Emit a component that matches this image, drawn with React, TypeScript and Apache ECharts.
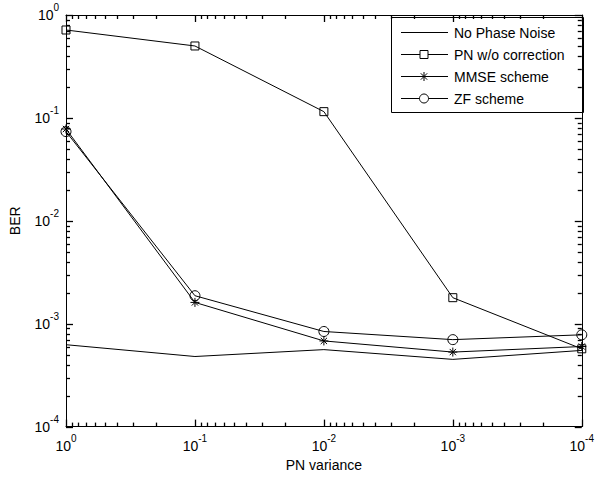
import React, { useEffect, useRef } from "react";
import * as echarts from "echarts";

// PN variance (x) and BER values
const PN_VARIANCE = [1, 0.1, 0.01, 0.001, 0.0001];
const NO_PHASE_NOISE = [6.25e-4, 4.8e-4, 5.6e-4, 4.5e-4, 5.5e-4];
const PN_WO_CORRECTION = [0.715, 0.5, 0.115, 1.79e-3, 5.7e-4];
const MMSE_SCHEME = [0.078, 1.61e-3, 6.8e-4, 5.3e-4, 6.0e-4];
const ZF_SCHEME = [0.0736, 1.87e-3, 8.4e-4, 7.0e-4, 7.8e-4];
const SERIES_NAMES = ["No Phase Noise", "PN w/o correction", "MMSE scheme", "ZF scheme"];
const AXIS_X_NAME = "PN variance";
const AXIS_Y_NAME = "BER";
const DECADES = [-4, -3, -2, -1, 0];

const FONT = "Liberation Sans, Arial, sans-serif";
const lg = (v: number) => Math.log10(v);

const MINOR: number[] = [];
for (let d = -4; d < 0; d++) {
  for (let k = 2; k <= 9; k++) MINOR.push(d + Math.log10(k));
}
// tick list: [log-position, kind] where kind 0 = major decade, 1 = minor
const TICKS = [...DECADES.map((v) => [v, 0]), ...MINOR.map((v) => [v, 1])];

const labelFmt = (v: number) => `{b|10}{s|${Math.round(v)}}`;
const rich = {
  b: { fontSize: 14, fontFamily: FONT, color: "#000" },
  s: { fontSize: 10, fontFamily: FONT, color: "#000", padding: [0, 0, 15, 0] },
};

const ASTERISK = "path://M5,0L5,10M0,5L10,5M1.5,1.5L8.5,8.5M8.5,1.5L1.5,8.5";

export default function App() {
  const ref = useRef<HTMLDivElement>(null);
  useEffect(() => {
    if (!ref.current) return;
    const chart = echarts.init(ref.current, null, { renderer: "svg" });
    const toData = (ys: number[]) => PN_VARIANCE.map((x, i) => [lg(x), lg(ys[i])]);
    const line = { color: "#000", width: 1 };
    const hollow = { color: "rgba(0,0,0,0)", borderColor: "#000", borderWidth: 1 };
    const base = { type: "value", min: -4, max: 0, splitLine: { show: false }, axisTick: { show: false } };
    const ls = { color: "#000", width: 1 };
    const stroke = { stroke: "#000", lineWidth: 1 };
    const tickStroke = { stroke: "#000", lineWidth: 1.3 };

    // MATLAB-style legend box
    const LX = 391, LY = 17, LW = 192, LH = 95;
    const rowY = (i: number) => LY + 15.5 + i * 22;
    const lineX1 = 401, lineX2 = 448, mx = 424, textX = 454;
    const legendChildren: any[] = [
      { type: "rect", shape: { x: LX + 0.5, y: LY + 0.5, width: LW, height: LH }, style: { fill: "#fff", ...stroke } },
    ];
    SERIES_NAMES.forEach((name, i) => {
      const y = rowY(i);
      legendChildren.push({ type: "line", shape: { x1: lineX1, y1: y, x2: lineX2, y2: y }, style: stroke });
      legendChildren.push({
        type: "text",
        x: textX,
        y,
        style: { text: name, fontSize: 14, fontFamily: FONT, fill: "#000", verticalAlign: "middle", align: "left" },
      });
    });
    legendChildren.push({
      type: "rect",
      shape: { x: mx - 4, y: rowY(1) - 4, width: 8, height: 8 },
      style: { fill: "#fff", ...stroke },
    });
    const ay = rowY(2);
    [
      [0, -4.5, 0, 4.5],
      [-4.5, 0, 4.5, 0],
      [-3.2, -3.2, 3.2, 3.2],
      [-3.2, 3.2, 3.2, -3.2],
    ].forEach(([a, b, c, d]) =>
      legendChildren.push({ type: "line", shape: { x1: mx + a, y1: ay + b, x2: mx + c, y2: ay + d }, style: stroke })
    );
    legendChildren.push({ type: "circle", shape: { cx: mx, cy: rowY(3), r: 4.5 }, style: { fill: "#fff", ...stroke } });

    // inward box ticks on all four sides, placed through the axes' scales
    const tickLen = (kind: number) => (kind === 0 ? 7 : 4);
    const xTicks = (params: any, api: any) => {
      const v = api.value(0);
      const len = tickLen(api.value(1));
      const b = api.coord([v, -4]);
      const t = api.coord([v, 0]);
      const x = Math.round(b[0]) + 0.5;
      return {
        type: "group",
        children: [
          { type: "line", shape: { x1: x, y1: b[1], x2: x, y2: b[1] - len }, style: tickStroke },
          { type: "line", shape: { x1: x, y1: t[1], x2: x, y2: t[1] + len }, style: tickStroke },
        ],
      };
    };
    const yTicks = (params: any, api: any) => {
      const v = api.value(0);
      const len = tickLen(api.value(1));
      const l = api.coord([0, v]);
      const r = api.coord([-4, v]);
      const y = Math.round(l[1]) + 0.5;
      return {
        type: "group",
        children: [
          { type: "line", shape: { x1: l[0], y1: y, x2: l[0] + len, y2: y }, style: tickStroke },
          { type: "line", shape: { x1: r[0], y1: y, x2: r[0] - len, y2: y }, style: tickStroke },
        ],
      };
    };

    chart.setOption({
      animation: false,
      backgroundColor: "#fff",
      textStyle: { fontFamily: FONT },
      grid: { left: 64, right: 10, top: 15, bottom: 50, containLabel: false },
      graphic: [{ type: "group", z: 100, children: legendChildren }],
      xAxis: [
        {
          ...base,
          interval: 1,
          inverse: true,
          position: "bottom",
          axisLine: { show: true, onZero: false, lineStyle: ls },
          axisLabel: { formatter: labelFmt, rich, margin: 7, customValues: DECADES },
          name: AXIS_X_NAME,
          nameLocation: "middle",
          nameGap: 31,
          nameTextStyle: { fontSize: 14, color: "#000", fontFamily: FONT },
        },
        {
          ...base,
          interval: 1,
          inverse: true,
          position: "top",
          axisLine: { show: true, onZero: false, lineStyle: ls },
          axisLabel: { show: false },
        },
      ],
      yAxis: [
        {
          ...base,
          interval: 1,
          position: "left",
          axisLine: { show: true, onZero: false, lineStyle: ls },
          axisLabel: { formatter: labelFmt, rich, margin: 7, customValues: DECADES },
          name: AXIS_Y_NAME,
          nameLocation: "middle",
          nameGap: 44,
          nameTextStyle: { fontSize: 14, color: "#000", fontFamily: FONT },
        },
        {
          ...base,
          interval: 1,
          position: "right",
          axisLine: { show: true, onZero: false, lineStyle: ls },
          axisLabel: { show: false },
        },
      ],
      series: [
        {
          name: "x ticks",
          type: "custom",
          coordinateSystem: "cartesian2d",
          silent: true,
          clip: false,
          z: 5,
          data: TICKS,
          renderItem: xTicks,
        },
        {
          name: "y ticks",
          type: "custom",
          coordinateSystem: "cartesian2d",
          silent: true,
          clip: false,
          z: 5,
          data: TICKS,
          renderItem: yTicks,
        },
        {
          name: SERIES_NAMES[0],
          type: "line",
          data: toData(NO_PHASE_NOISE),
          symbol: "none",
          lineStyle: line,
          itemStyle: { color: "#000" },
        },
        {
          name: SERIES_NAMES[1],
          type: "line",
          data: toData(PN_WO_CORRECTION),
          symbol: "rect",
          symbolSize: 8,
          lineStyle: line,
          itemStyle: hollow,
        },
        {
          name: SERIES_NAMES[2],
          type: "line",
          data: toData(MMSE_SCHEME),
          symbol: ASTERISK,
          symbolSize: 9,
          lineStyle: line,
          itemStyle: { color: "#000", borderColor: "#000", borderWidth: 1 },
        },
        {
          name: SERIES_NAMES[3],
          type: "line",
          data: toData(ZF_SCHEME),
          symbol: "circle",
          symbolSize: 10,
          lineStyle: line,
          itemStyle: hollow,
        },
      ],
    });
    return () => chart.dispose();
  }, []);
  return <div ref={ref} style={{ position: "fixed", left: 0, top: 0, width: 597, height: 477 }} />;
}
